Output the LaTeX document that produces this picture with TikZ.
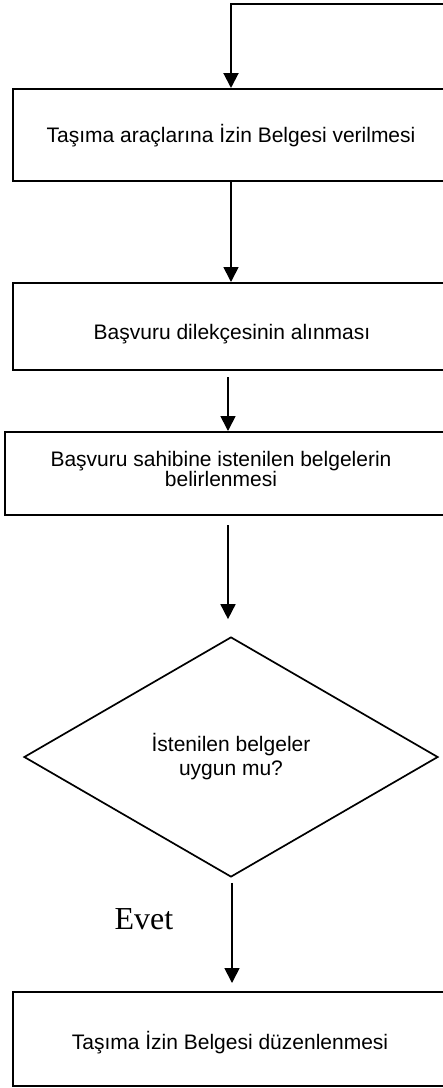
\documentclass[tikz,border=0pt]{standalone}
\usepackage{fontspec}
\setmainfont{Liberation Sans}
\newfontfamily\evetfont{Liberation Serif}
\usetikzlibrary{arrows.meta,shapes.geometric}
\begin{document}
\begin{tikzpicture}[x=1pt,y=-1pt,
  boxst/.style={draw,line width=2pt,rectangle,inner sep=0pt},
  txt/.style={font=\fontsize{21}{14}\selectfont,align=center,inner sep=0pt},
  arr/.style={line width=1.7pt,-{Triangle[length=15pt,width=15pt]}},
  dec/.style={draw,line width=1.7pt,diamond,inner sep=0pt,minimum width=414pt,minimum height=240pt,font=\fontsize{21}{24}\selectfont,align=center}]
\useasboundingbox (0,0) rectangle (443,1088);
\begin{scope}
\clip (0,0) rectangle (443,1088);
% boxes
\node[boxst,minimum width=436pt,minimum height=92pt] (b1) at (231,135) {};
\node[txt] (t1) at (231,136) {Taşıma araçlarına İzin Belgesi verilmesi};
\node[boxst,minimum width=436pt,minimum height=87pt] (b2) at (231,326.5) {};
\node[txt] (t2) at (232,334) {Başvuru dilekçesinin alınması};
\node[boxst,minimum width=446pt,minimum height=83pt] (b3) at (228,473.5) {};
\node[txt] (t3) at (221,469) {Başvuru sahibine istenilen belgelerin\\belirlenmesi};
\node[dec] (d) at (231,757) {İstenilen belgeler\\uygun mu?};
\node[boxst,minimum width=436pt,minimum height=94pt] (b4) at (231,1039) {};
\node[txt] (t4) at (230,1043) {Taşıma İzin Belgesi düzenlenmesi};
\node[font=\evetfont\fontsize{32}{36}\selectfont,anchor=base,inner sep=0pt] (ev) at (144,929) {Evet};
% connectors
\coordinate (tr) at (446,4);
\draw[arr,line width=2pt] (tr) -| (b1.north);
\draw[arr] (b1.south) -- (b2.north);
\draw[arr] ([yshift=-6pt]b2.south -| b3.north) -- (b3.north);
\draw[arr] ([yshift=-9pt]b3.south) -- ([yshift=17pt]d.north -| b3.south);
\draw[arr] ([xshift=1pt,yshift=-5pt]d.south) -- ([xshift=1pt,yshift=8pt]b4.north);
\end{scope}
\end{tikzpicture}
\end{document}
